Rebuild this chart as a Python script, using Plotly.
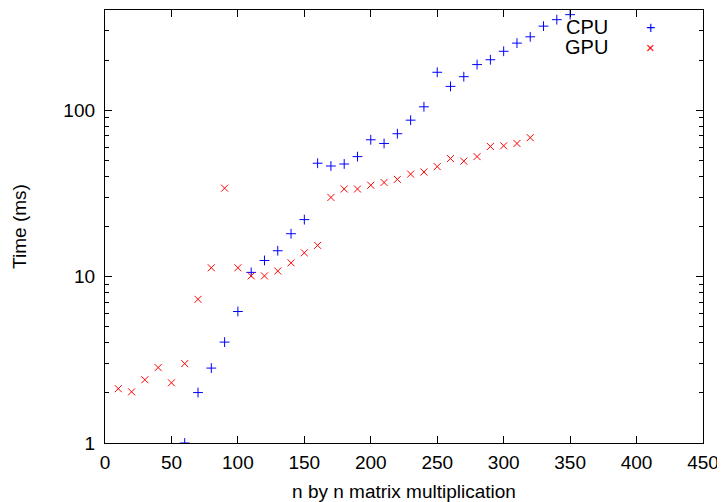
import plotly.graph_objects as go

# matrix size n
cpu_n = [60, 70, 80, 90, 100, 110, 120, 130, 140, 150, 160, 170, 180, 190, 200,
         210, 220, 230, 240, 250, 260, 270, 280, 290, 300, 310, 320, 330, 340, 350]
cpu_ms = [1.0, 2.01, 2.82, 4.04, 6.17, 10.6, 12.5, 14.3, 18.1, 22.0, 48.0, 46.2, 47.5, 52.6, 66.4,
          63.1, 72.2, 87.1, 104.8, 169, 139, 159, 188, 201, 226, 253, 276, 320, 350, 375]

gpu_n = [10, 20, 30, 40, 50, 60, 70, 80, 90, 100, 110, 120, 130, 140, 150, 160,
         170, 180, 190, 200, 210, 220, 230, 240, 250, 260, 270, 280, 290, 300, 310, 320]
gpu_ms = [2.12, 2.03, 2.4, 2.84, 2.3, 3.0, 7.3, 11.3, 34.0, 11.3, 10.1, 10.1, 10.8, 12.1, 13.9, 15.4,
          29.9, 33.6, 33.6, 35.4, 36.8, 38.4, 41.3, 42.5, 45.8, 51.2, 49.4, 52.6, 60.5, 61.1, 63.1, 68.4]

FONT = "Liberation Sans, Arial, sans-serif"
BLUE = "#0000ff"
RED = "#ff0000"

fig = go.Figure()
fig.add_trace(go.Scatter(
    x=cpu_n, y=cpu_ms, mode="markers", name="CPU",
    marker=dict(symbol="cross-thin", size=7, line=dict(color=BLUE, width=1), color=BLUE),
))
fig.add_trace(go.Scatter(
    x=gpu_n, y=gpu_ms, mode="markers", name="GPU",
    marker=dict(symbol="x-thin", size=7, line=dict(color=RED, width=1), color=RED),
))

# gnuplot-style key: text on the left, sample on the right
key = [("CPU", "+", BLUE, 0.9606, 16), ("GPU", "\u00d7", RED, 0.914, 15)]
for label, sym, col, yy, sz in key:
    fig.add_annotation(x=0.8445, y=yy, xref="paper", yref="paper", text=label,
                       showarrow=False, xanchor="right", yanchor="middle",
                       font=dict(family=FONT, size=20, color="black"))
    fig.add_annotation(x=0.913, y=yy, xref="paper", yref="paper", text=sym,
                       showarrow=False, xanchor="center", yanchor="middle",
                       font=dict(family=FONT, size=sz, color=col))

axis_common = dict(
    showline=True, linecolor="black", linewidth=1.3, mirror="allticks",
    ticks="inside", ticklen=7, tickcolor="black", tickwidth=1,
    showgrid=False, zeroline=False,
    tickfont=dict(family=FONT, size=19, color="black"),
)

fig.update_xaxes(
    range=[0, 450], dtick=50, tick0=0, ticklabelstandoff=2,
    title=dict(text="n by n matrix multiplication", font=dict(family=FONT, size=19, color="black"), standoff=12),
    **axis_common,
)
fig.update_yaxes(
    type="log", range=[0, 2.6021],
    tickvals=[1, 10, 100], ticktext=["1", "10", "100"], ticklabelstandoff=5,
    minor=dict(ticks="inside", ticklen=4, tickcolor="black", dtick="D1", showgrid=False),
    title=dict(text="Time (ms)", font=dict(family=FONT, size=19, color="black"), standoff=31),
    **axis_common,
)

# the page body adds an 8px offset, so the figure is shrunk to fit the window
fig.update_layout(
    width=717, height=494,
    margin=dict(l=97, r=22, t=2, b=59),
    plot_bgcolor="white", paper_bgcolor="white",
    showlegend=False,
    font=dict(family=FONT),
)

fig.write_html("out.html")
